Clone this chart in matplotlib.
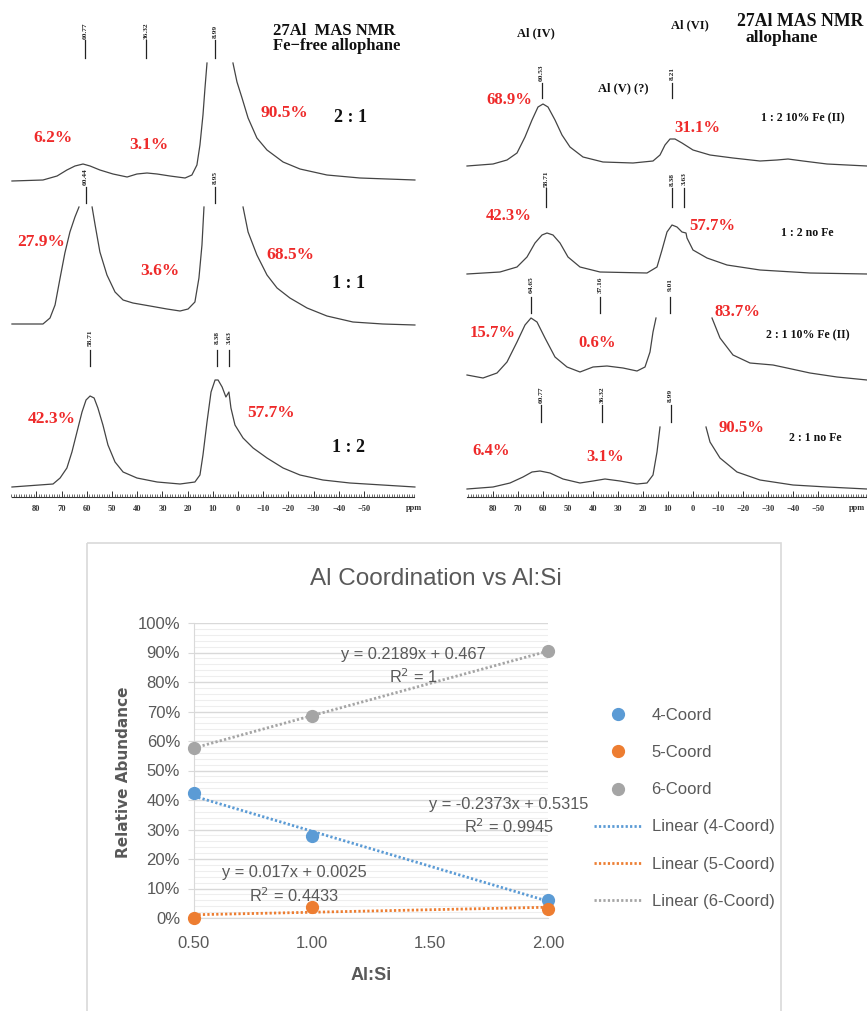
import numpy as np
import matplotlib
matplotlib.use("Agg")
import matplotlib.pyplot as plt
from matplotlib.patches import Rectangle
from matplotlib.ticker import FixedLocator, MultipleLocator, FuncFormatter

nan = np.nan
# ---------------- NMR spectra (ppm, intensity above baseline) ----------------
L1_ppm = [89.7, 77.4, 71.8, 67.9, 64.7, 61.5, 58.7, 54.8, 49.6, 44.0, 40.1, 36.1, 32.1, 27.0, 21.0, 18.3, 16.3,
          15.1, 13.9, 13.1, 12.3,
          nan, 2.0, 0.4, -1.6, -4.0, -7.5, -11.5, -17.9, -24.6, -35.3, -48.4, -70.2]
L1_int = [0, 1, 5, 11, 15, 17, 15, 11, 7, 4, 7, 8, 7, 5, 3, 6, 16,
          36, 66, 93, 118,
          nan, 118, 99, 83, 63, 43, 31, 19, 12, 6, 3, 1]
L2_ppm = [89.7, 77.4, 74.6, 72.6, 70.6, 68.7, 66.7, 64.7, 63.1,
          nan, 57.9, 56.7, 54.8, 52.0, 48.8, 45.6, 41.7, 34.9, 28.2, 23.0, 19.8, 17.1, 15.5, 14.3, 13.5,
          nan, -2.0, -4.0, -7.5, -11.5, -15.5, -20.6, -27.4, -35.3, -45.6, -57.5, -70.2]
L2_int = [0, 0, 6, 19, 46, 71, 92, 107, 117,
          nan, 117, 99, 72, 49, 32, 24, 21, 18, 15, 13, 15, 22, 46, 79, 117,
          nan, 117, 92, 69, 49, 36, 26, 16, 8, 2, 0, -1]
L3_ppm = [89.7, 73.4, 70.6, 67.9, 65.9, 63.9, 61.9, 60.3, 58.7, 57.1, 55.6, 53.6, 51.6, 48.8, 45.6, 40.1, 32.1,
          23.0, 17.1, 15.1, 13.9, 12.3, 10.7, 9.1, 7.9, 6.3, 4.8, 3.6, 2.8, 1.2, -2.0, -6.0, -11.5, -17.9,
          -24.6, -33.7, -44.4, -70.2]
L3_int = [0, 3, 9, 19, 35, 55, 75, 87, 91, 89, 79, 62, 42, 25, 15, 9, 5,
          3, 5, 12, 32, 65, 95, 107, 107, 100, 90, 95, 79, 62, 49, 39, 29, 19,
          12, 7, 4, 0]

RA_ppm = [90.4, 80, 74.4, 70.4, 67.2, 64.4, 62, 60, 58, 55.2, 52.4, 49.2, 44, 36, 24, 16, 13.2, 11.2, 9.2, 7.2,
          4.4, 0, -6.8, -16, -26.8, -33.6, -38, -44, -53.6, -69.6]
RA_int = [0, 2, 6, 13, 29, 46, 59, 62, 59, 46, 31, 19, 9, 4, 3, 5, 11, 21, 27, 27,
          23, 16, 11, 8, 5, 6, 7, 5, 2, 0]
RB_ppm = [90.4, 77.2, 70.4, 66.4, 63.2, 60.4, 58.4, 56, 53.2, 50, 45.2, 37.2, 18.4, 14.4, 12.4, 10.4, 8.4, 6.4,
          4.4, 2.8, 2.4, 0, -5.6, -13.6, -26.8, -46.8, -69.6]
RB_int = [0, 2, 7, 17, 31, 39, 41, 39, 31, 17, 7, 2, 1, 7, 24, 42, 49, 47,
          42, 41, 36, 24, 16, 9, 4, 1, 0]
RC_ppm = [90.4, 84, 78.4, 74.4, 70.4, 67.2, 64.8, 62.4, 59.2, 55.2, 50.4, 45.2, 40, 34.4, 28, 22.4, 19.2, 17.2,
          16, 14.8,
          nan, -7.6, -10.8, -16, -22.8, -32, -37.6, -46.8, -57.6, -69.6]
RC_int = [3, 0, 5, 16, 36, 53, 60, 56, 40, 21, 11, 6, 11, 12, 10, 7, 11, 26,
          46, 60,
          nan, 60, 40, 23, 15, 13, 10, 5, 1, -2]
RD_ppm = [90.4, 80, 73.2, 68, 64.4, 61.2, 57.2, 52, 45.2, 40, 35.2, 29.2, 22.4, 18.4, 16, 14.4, 13.2,
          nan, -5.2, -6.8, -10.8, -17.6, -26.8, -40, -53.6, -69.6]
RD_int = [0, 2, 6, 12, 17, 18, 16, 10, 6, 8, 10, 8, 5, 6, 14, 37, 62,
          nan, 62, 47, 31, 17, 9, 4, 2, 0]

L1_peaks = ["60.77", "36.32", "8.99"]
L2_peaks = ["60.44", "8.95"]
L3_peaks = ["58.71", "8.38", "3.63"]
RA_peaks = ["60.53", "8.21"]
RB_peaks = ["58.71", "8.38", "3.63"]
RC_peaks = ["64.65", "37.16", "9.01"]
RD_peaks = ["60.77", "36.32", "8.99"]

L_pct = ["6.2%", "3.1%", "90.5%", "27.9%", "3.6%", "68.5%", "42.3%", "57.7%"]
L_ratio = ["2 : 1", "1 : 1", "1 : 2"]
R_pct = ["68.9%", "31.1%", "42.3%", "57.7%", "15.7%", "0.6%", "83.7%", "6.4%", "3.1%", "90.5%"]
R_ratio = ["1 : 2 10% Fe (II)", "1 : 2 no Fe", "2 : 1 10% Fe (II)", "2 : 1 no Fe"]
ppm_ticks = [80, 70, 60, 50, 40, 30, 20, 10, 0, -10, -20, -30, -40, -50]

# ---------------- Excel chart data ----------------
al_si = [0.5, 1.0, 2.0]
coord4 = [0.423, 0.279, 0.062]
coord5 = [0.0, 0.036, 0.031]
coord6 = [0.577, 0.685, 0.905]
series_names = ["4-Coord", "5-Coord", "6-Coord"]
x_ticks = [0.5, 1.0, 1.5, 2.0]

# ---------------- figure ----------------
W, H = 867, 1011
fig = plt.figure(figsize=(W / 100, H / 100), dpi=100)
ov = fig.add_axes([0, 0, 1, 1])
ov.set_xlim(0, W); ov.set_ylim(H, 0); ov.axis("off")

RED = "#ee2a2a"
serif = "Liberation Serif"

def panel(x0, x1, ppm_left, ppm_right):
    ax = fig.add_axes([x0 / W, 1 - 497 / H, (x1 - x0) / W, 497 / H])
    ax.set_facecolor("none")
    ax.set_xlim(ppm_left, ppm_right)
    ax.set_ylim(497, 0)
    for s in ["left", "right", "top"]:
        ax.spines[s].set_visible(False)
    ax.spines["bottom"].set_color("#333333")
    ax.spines["bottom"].set_linewidth(0.8)
    ax.set_yticks([])
    ax.xaxis.set_major_locator(FixedLocator(ppm_ticks))
    ax.xaxis.set_minor_locator(FixedLocator(np.arange(-70, 91, 1)))
    ax.xaxis.set_major_formatter(FuncFormatter(lambda v, p: f"{v:.0f}".replace("-", "\u2212")))
    ax.tick_params(axis="x", which="major", direction="in", length=4, width=0.7, pad=6,
                   labelsize=6, colors="#333333")
    ax.tick_params(axis="x", which="minor", direction="in", length=2.5, width=0.5, colors="#333333")
    for lab in ax.get_xticklabels():
        lab.set_fontfamily(serif); lab.set_fontweight("bold")
    return ax

axL = panel(0, 440, (238 - 0) / 2.52, (238 - 440) / 2.52)
axL.spines["bottom"].set_bounds(89.5, -70)
axR = panel(460, 867, (693 - 460) / 2.5, (693 - 867) / 2.5)
axR.spines["bottom"].set_bounds(90.4, -69.6)

def spec(ax, ppm, inten, base):
    y = base - np.array(inten, dtype=float)
    ax.plot(ppm, y, color="#444444", lw=0.9, solid_joinstyle="round")

def peaks(ax, labels, ylab, y1, y2):
    for lab in labels:
        p = float(lab)
        ax.plot([p, p], [y1, y2], color="#222222", lw=0.9)
        ax.text(p, ylab, lab, rotation=90, ha="center", va="center", fontsize=5.3,
                family=serif, fontweight="bold", color="#222222")

spec(axL, L1_ppm, L1_int, 181)
spec(axL, L2_ppm, L2_int, 324)
spec(axL, L3_ppm, L3_int, 487)
peaks(axL, L1_peaks, 31, 40, 58)
peaks(axL, L2_peaks, 177, 187, 203)
peaks(axL, L3_peaks, 338, 350, 366)

spec(axR, RA_ppm, RA_int, 166)
spec(axR, RB_ppm, RB_int, 274)
spec(axR, RC_ppm, RC_int, 378)
spec(axR, RD_ppm, RD_int, 489)
peaks(axR, RA_peaks, 73, 83, 98)
peaks(axR, RB_peaks, 179, 188, 207)
peaks(axR, RC_peaks, 285, 297, 313)
peaks(axR, RD_peaks, 395, 405, 422)

axL.text(-66.5, 508, "ppm", ha="left", va="center", fontsize=6, family=serif, fontweight="bold", color="#333333")
axR.text(-62.5, 508, "ppm", ha="left", va="center", fontsize=6, family=serif, fontweight="bold", color="#333333")

def t(x, y, s, size, color="#111111", ha="center"):
    ov.text(x, y, s, ha=ha, va="center", fontsize=size, family=serif, fontweight="bold", color=color)

# left texts
t(273, 31, "27Al  MAS NMR", 12, ha="left")
t(273, 46, "Fe\u2212free allophane", 12, ha="left")
L_pos = [(53, 138), (149, 145), (284, 113), (41, 242), (160, 271), (290, 255), (52, 419), (271, 413)]
for s, (x, y) in zip(L_pct, L_pos):
    t(x, y, s, 12.5, RED)
for s, (x, y) in zip(L_ratio, [(350, 118), (349, 283), (348, 447)]):
    t(x, y, s, 13)

# right texts
t(737, 21, "27Al MAS NMR", 12.8, ha="left")
t(745, 38, "allophane", 12.5, ha="left")
t(536, 33, "Al (IV)", 9)
t(690, 25, "Al (VI)", 9)
t(623, 88, "Al (V) (?)", 9)
R_pos = [(509, 100), (697, 128), (509, 216), (712, 226), (493, 333), (597, 343), (737, 312), (491, 451), (605, 457), (741, 428)]
for s, (x, y) in zip(R_pct, R_pos):
    t(x, y, s, 12, RED)
for s, (x, y) in zip(R_ratio, [(803, 118), (807, 233), (808, 335), (815, 438)]):
    t(x, y, s, 8.5)

# ---------------- Excel chart ----------------
ov.add_patch(Rectangle((87, 543), 694, 470, fill=False, edgecolor="#d9d9d9", lw=1.2))
SANS = ["Liberation Sans Narrow", "DejaVu Sans Condensed", "Liberation Sans"]
GREY_T = "#595959"

ax = fig.add_axes([194 / W, 1 - 918 / H, 354 / W, 295 / H])
ax.set_facecolor("none")
ax.set_xlim(0.5, 2.0)
ax.set_ylim(0, 1.0)
ax.yaxis.set_major_locator(MultipleLocator(0.1))
ax.yaxis.set_minor_locator(MultipleLocator(0.02))
ax.grid(True, which="major", axis="y", color="#d9d9d9", lw=1.0)
ax.grid(True, which="minor", axis="y", color="#eeeeee", lw=0.8)
ax.set_axisbelow(True)
ax.set_xticks(x_ticks)
ax.set_xticklabels([f"{v:.2f}" for v in x_ticks])
ax.yaxis.set_major_formatter(FuncFormatter(lambda v, p: f"{v * 100:.0f}%"))
for s in ["top", "right"]:
    ax.spines[s].set_visible(False)
ax.spines["left"].set_color("#d9d9d9")
ax.spines["bottom"].set_color("#d9d9d9")
ax.tick_params(axis="y", which="major", length=4, color="#d9d9d9", labelsize=12, labelcolor=GREY_T, pad=6)
ax.tick_params(axis="y", which="minor", length=0)
ax.tick_params(axis="x", length=0, labelsize=12, labelcolor=GREY_T, pad=13)
for lab in ax.get_xticklabels() + ax.get_yticklabels():
    lab.set_fontfamily(SANS)

colors = ["#5b9bd5", "#ed7d31", "#a5a5a5"]
series = [coord4, coord5, coord6]
handles_pts, handles_lin = [], []
eq_pos = [((509, 805), (509, 827)), ((294, 872), (294, 896)), ((413, 654), (413, 677))]
xs = np.array(al_si)
for name, ys, c, (p_eq, p_r2) in zip(series_names, series, colors, eq_pos):
    ys = np.array(ys)
    h, = ax.plot(xs, ys, "o", color=c, ms=8.5, clip_on=False, zorder=5, label=name)
    handles_pts.append(h)
    m, b = np.polyfit(xs, ys, 1)
    xx = np.array([0.5, 2.0])
    hl, = ax.plot(xx, m * xx + b, color=c, lw=2, ls=(0, (0.8, 0.8)), zorder=4, clip_on=False,
                  label=f"Linear ({name})")
    handles_lin.append(hl)
    r2 = 1 - np.sum((ys - (m * xs + b)) ** 2) / np.sum((ys - ys.mean()) ** 2)
    ax.text(*p_eq, f"y = {m:.4g}x + {b:.4g}", transform=ov.transData, ha="center", va="center",
            fontsize=11.8, family=SANS, color=GREY_T, zorder=6, clip_on=False)
    ax.text(*p_r2, f"R$^2$ = {r2:.4g}", transform=ov.transData, ha="center", va="center",
            fontsize=11.8, family=SANS, color=GREY_T, zorder=6, clip_on=False)

ov.text(436, 579, "Al Coordination vs Al:Si", ha="center", va="center", fontsize=17.5, family=SANS, color=GREY_T)
ov.text(124, 772, "Relative Abundance", ha="center", va="center", rotation=90, fontsize=11,
        family="DejaVu Sans", fontweight="bold", color=GREY_T)
ov.text(371, 975, "Al:Si", ha="center", va="center", fontsize=13, family=SANS, fontweight="bold", color=GREY_T)

leg = fig.legend(handles=handles_pts + handles_lin, loc="upper left",
                 bbox_to_anchor=(594 / W, 1 - 708 / H), frameon=False, borderpad=0, borderaxespad=0,
                 handlelength=2.9, handletextpad=0.55, labelspacing=1.33,
                 prop={"family": SANS, "size": 12})
for txt in leg.get_texts():
    txt.set_color(GREY_T)

fig.savefig("out.png", dpi=100)
